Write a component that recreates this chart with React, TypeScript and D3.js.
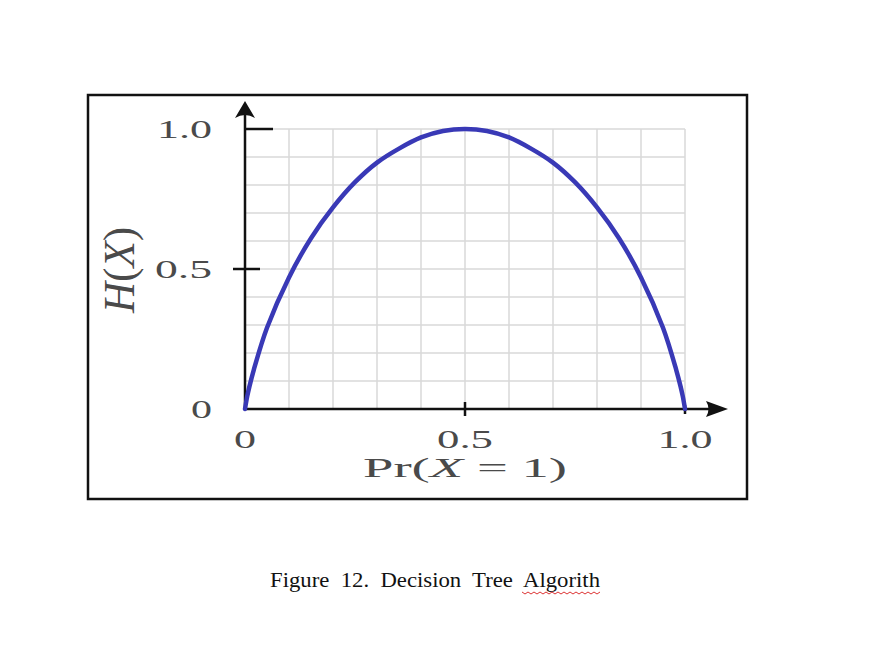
import * as d3 from "d3";

// values
const probs = [0, 0.005, 0.01, 0.02, 0.05, 0.1, 0.15, 0.2, 0.25, 0.3, 0.35, 0.4, 0.45, 0.5,
  0.55, 0.6, 0.65, 0.7, 0.75, 0.8, 0.85, 0.9, 0.95, 0.98, 0.99, 0.995, 1];
const entropy = [0, 0.045, 0.08, 0.14, 0.29, 0.47, 0.61, 0.72, 0.81, 0.88, 0.93, 0.97, 0.993, 1.0,
  0.993, 0.97, 0.93, 0.88, 0.81, 0.72, 0.61, 0.47, 0.29, 0.14, 0.08, 0.045, 0];
const gridSteps = [0.1, 0.2, 0.3, 0.4, 0.5, 0.6, 0.7, 0.8, 0.9, 1.0];
const xTicks = [0, 0.5, 1.0];
const xTickLabels = ["0", "0.5", "1.0"];
const yTicks = [0, 0.5, 1.0];
const yTickLabels = ["0", "0.5", "1.0"];
const caption = "Figure  12.  Decision  Tree  Algorith";

const x0 = 245, x1 = 685, y0 = 409, y1 = 129;
const serif = "'Liberation Serif', 'DejaVu Serif', serif";

export default function App() {
  const x = d3.scaleLinear().domain([0, 1]).range([x0, x1]);
  const y = d3.scaleLinear().domain([0, 1]).range([y0, y1]);
  const pts = probs.map((p, i) => [p, entropy[i]] as [number, number]);
  const line = d3.line<[number, number]>()
    .x((d) => x(d[0]))
    .y((d) => y(d[1]))
    .curve(d3.curveCatmullRom.alpha(0.5));

  // spell-check squiggle under the last word
  let squiggle = "M522,592";
  for (let i = 1; i <= 26; i++) squiggle += ` L${522 + i * 3},${592 + (i % 2 ? 2 : 0)}`;

  const xLabelW = [22, 56, 55];
  const yLabelW = [21, 57, 55];

  return (
    <svg width={869} height={666} style={{ position: "absolute", left: 0, top: 0, background: "#fff" }}>
      <rect x={88} y={95} width={659} height={404} fill="none" stroke="#111" strokeWidth={2.5} />

      {/* grid */}
      <g stroke="#d9d9d9" strokeWidth={1.5}>
        {gridSteps.map((g) => (
          <line key={"v" + g} x1={x(g)} x2={x(g)} y1={y(1)} y2={y(0)} />
        ))}
        {gridSteps.map((g) => (
          <line key={"h" + g} x1={x(0)} x2={x(1)} y1={y(g)} y2={y(g)} />
        ))}
      </g>

      {/* axes */}
      <g stroke="#111" strokeWidth={2.5} fill="none">
        <line x1={x(0)} x2={712} y1={y(0)} y2={y(0)} />
        <line x1={x(0)} x2={x(0)} y1={y(0)} y2={114} />
        <line x1={x(0.5)} x2={x(0.5)} y1={y(0) - 7} y2={y(0) + 7} />
        <line x1={x(1)} x2={x(1)} y1={y(0) - 4} y2={y(0) + 5} />
        <line x1={x(0) - 12} x2={x(0) + 15} y1={y(0.5)} y2={y(0.5)} />
        <line x1={x(0)} x2={x(0) + 28} y1={y(1)} y2={y(1)} />
      </g>
      <path d="M728,409 L706,401 Q711,409 706,417 Z" fill="#111" />
      <path d="M245,101 L235,118 Q245,112 255,118 Z" fill="#111" />

      {/* curve */}
      <path d={line(pts) ?? ""} fill="none" stroke="#3939b6" strokeWidth={4.5} strokeLinecap="round" />

      {/* tick labels */}
      <g fontFamily={serif} fontSize={26} fill="#4a4a4a">
        {xTicks.map((t, i) => (
          <text key={"xt" + t} x={x(t)} y={448} textAnchor="middle"
            textLength={xLabelW[i]} lengthAdjust="spacingAndGlyphs">{xTickLabels[i]}</text>
        ))}
        {yTicks.map((t, i) => (
          <text key={"yt" + t} x={212} y={y(t) + 9} textAnchor="end"
            textLength={yLabelW[i]} lengthAdjust="spacingAndGlyphs">{yTickLabels[i]}</text>
        ))}
      </g>

      {/* axis titles */}
      <text x={465} y={477} textAnchor="middle" fontFamily={serif} fontSize={28} fill="#4a4a4a"
        textLength={204} lengthAdjust="spacingAndGlyphs">
        Pr(<tspan fontStyle="italic">X</tspan> = 1)
      </text>
      <g transform="translate(134,270) scale(1.55,1) rotate(-90)">
        <text x={0} y={0} textAnchor="middle" fontFamily={serif} fontSize={29} fill="#4a4a4a"
          textLength={86} lengthAdjust="spacingAndGlyphs">
          <tspan fontStyle="italic">H</tspan>(<tspan fontStyle="italic">X</tspan>)
        </text>
      </g>

      {/* caption */}
      <text x={270} y={587} fontFamily={serif} fontSize={21} fill="#111"
        textLength={330} lengthAdjust="spacingAndGlyphs" style={{ whiteSpace: "pre" }}>
        {caption}
      </text>
      <path d={squiggle} fill="none" stroke="#d33" strokeWidth={1} />
    </svg>
  );
}
